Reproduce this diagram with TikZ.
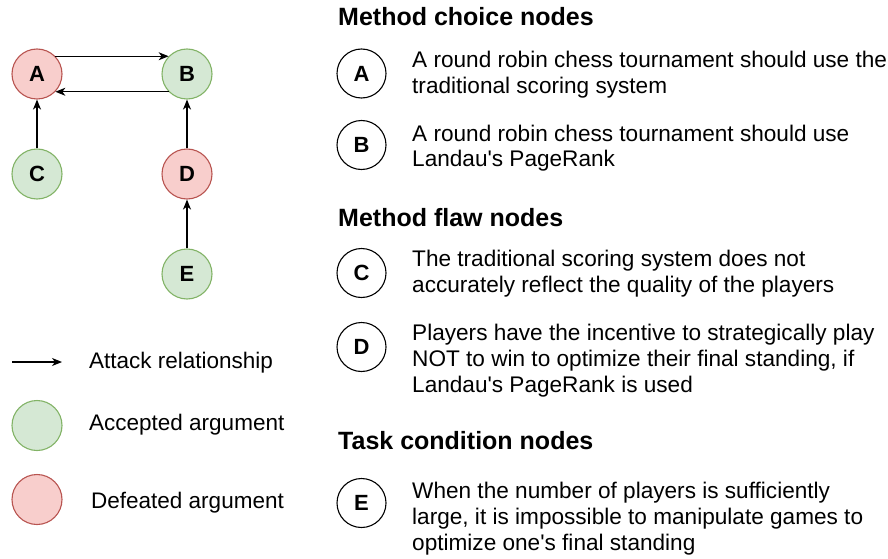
\documentclass[tikz,border=0pt]{standalone}
\usepackage{fontspec}
\setmainfont{Liberation Sans}
\usetikzlibrary{arrows.meta}
\definecolor{accfill}{HTML}{D5E8D4}
\definecolor{accdraw}{HTML}{82B366}
\definecolor{deffill}{HTML}{F8CECC}
\definecolor{defdraw}{HTML}{B85450}
\begin{document}
\begin{tikzpicture}[x=1pt,y=-1pt,
 arg/.style={circle, minimum size=50pt, inner sep=0pt, line width=1.1pt, font=\fontsize{22}{26}\selectfont\bfseries},
 acc/.style={arg, draw=accdraw, fill=accfill},
 dft/.style={arg, draw=defdraw, fill=deffill},
 keynode/.style={circle, draw=black, fill=white, minimum size=49pt, inner sep=0pt, line width=1.1pt, font=\fontsize{22}{26}\selectfont\bfseries},
 attack/.style={-{Stealth[length=10pt,width=8pt,inset=3pt]}, line width=1.1pt},
 heading/.style={anchor=base west, inner sep=0pt, font=\fontsize{25}{28}\selectfont\bfseries},
 desc/.style={anchor=base west, inner sep=0pt, align=left, font=\fontsize{22.6}{25.8}\selectfont},
 legtext/.style={anchor=base west, inner sep=0pt, font=\fontsize{22.5}{26}\selectfont}]
\useasboundingbox (0,0) rectangle (888,559);
% graph
\node[dft] (A) at (37,74) {A};
\node[acc] (B) at (187,74) {B};
\node[acc] (C) at (37,174) {C};
\node[dft] (D) at (187,174) {D};
\node[acc] (E) at (187,274) {E};
\draw[attack] (A.44) -- (B.136);
\draw[attack] (B.-136) -- (A.-44);
\draw[attack] (C) -- (A);
\draw[attack] (D) -- (B);
\draw[attack] (E) -- (D);
% legend
\coordinate (l1) at (12,362);
\coordinate (l2) at (62,362);
\draw[attack] (l1) -- (l2);
\node[legtext] (lt1) at (89,368) {Attack relationship};
\node[acc] (lacc) at (37,425.5) {};
\node[legtext] (lt2) at (89,430) {Accepted argument};
\node[dft] (ldef) at (37,499.5) {};
\node[legtext] (lt3) at (91,508) {Defeated argument};
% right side
\node[heading] (h1) at (338,26) {Method choice nodes};
\node[heading] (h2) at (338,226) {Method flaw nodes};
\node[heading] (h3) at (338,449) {Task condition nodes};
\node[keynode] (kA) at (361.5,73.5) {A};
\node[keynode] (kB) at (361.5,145) {B};
\node[keynode] (kC) at (361.5,273) {C};
\node[keynode] (kD) at (361.5,347) {D};
\node[keynode] (kE) at (361.5,503) {E};
\node[desc] (tA) at (412,93.8) {A round robin chess tournament should use the\\traditional scoring system};
\node[desc] (tB) at (412,166.8) {A round robin chess tournament should use\\Landau\textquotesingle s PageRank};
\node[desc] (tC) at (412,292) {The traditional scoring system does not\\accurately reflect the quality of the players};
\node[desc] (tD) at (412,392) {Players have the incentive to strategically play\\NOT to win to optimize their final standing, if\\Landau\textquotesingle s PageRank is used};
\node[desc] (tE) at (412,550.5) {When the number of players is sufficiently\\large, it is impossible to manipulate games to\\optimize one\textquotesingle s final standing};
\end{tikzpicture}
\end{document}
